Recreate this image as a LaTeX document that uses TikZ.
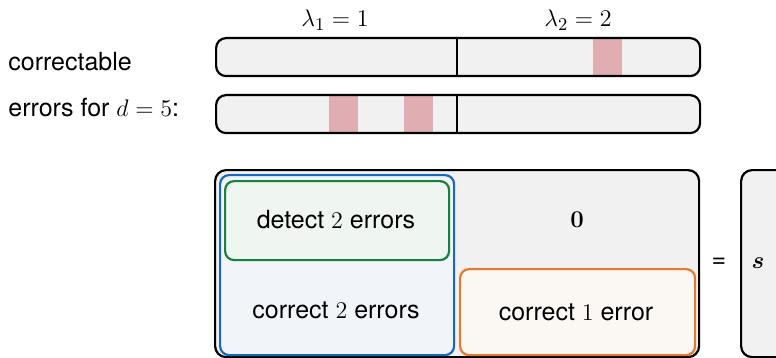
\documentclass[tikz,border=0pt]{standalone}
\usepackage{amsmath}
\usepackage{bm}
\usepackage[no-math]{fontspec}
\setmainfont{TeX Gyre Heros}
\definecolor{panel}{HTML}{F1F1F1}
\definecolor{errfill}{HTML}{E0ADB2}
\definecolor{bluedge}{HTML}{1768C2}
\definecolor{bluefill}{HTML}{F1F5FA}
\definecolor{greenedge}{HTML}{17803A}
\definecolor{greenfill}{HTML}{EFF5F0}
\definecolor{orangeedge}{HTML}{E8782A}
\definecolor{orangefill}{HTML}{FBF7F3}
\tikzset{
  px/.style={x=0.5pt,y=-0.5pt},
  lbl/.style={inner sep=0pt,font=\fontsize{12.5}{15}\selectfont},
  barbox/.style={draw=black,line width=1.1pt,rounded corners=5pt},
  errcell/.style={fill=errfill},
  region/.style={line width=1.1pt,rounded corners=4.5pt},
}
\begin{document}
\begin{tikzpicture}[px]
\useasboundingbox (0,0) rectangle (776,358);
\clip (0,0) rectangle (776,358);

% weight labels
\node[lbl] (l1) at (335,20) {$\lambda_1 = 1$};
\node[lbl] (l2) at (578,20) {$\lambda_2 = 2$};

% left caption
\node[lbl,anchor=west] (c1) at (8,62) {correctable};
\node[lbl,anchor=west] (c2) at (8,108) {errors for $d = 5$:};

% error patterns
\fill[panel,rounded corners=5pt] (215,37) rectangle (699,75);
\fill[errcell] (593,37) rectangle (622,75);
\draw[line width=1.1pt] (457,37) -- (457,75);
\node[barbox,anchor=north west,minimum width=242pt,minimum height=19pt,inner sep=0pt] (bar1) at (215,37) {};

\fill[panel,rounded corners=5pt] (215,94) rectangle (699,132);
\fill[errcell] (329,94) rectangle (358,132);
\fill[errcell] (404,94) rectangle (433,132);
\draw[line width=1.1pt] (457,94) -- (457,132);
\node[barbox,anchor=north west,minimum width=242pt,minimum height=19pt,inner sep=0pt] (bar2) at (215,94) {};

% check matrix
\node[region,draw=black,fill=panel,rounded corners=5.5pt,anchor=north west,minimum width=242pt,minimum height=93.5pt,inner sep=0pt] (H) at (214,169) {};
\node[region,draw=bluedge,fill=bluefill,anchor=north west,minimum width=117pt,minimum height=90pt,inner sep=0pt] (blue) at (219,174) {};
\node[region,draw=greenedge,fill=greenfill,anchor=north west,minimum width=112pt,minimum height=39.5pt,inner sep=0pt] (green) at (224,180) {};
\node[lbl] (det) at (336,220) {detect $2$ errors};
\node[lbl] (cor2) at (336,310) {correct $2$ errors};
\node[lbl] (zero) at (577,220) {$\mathbf{0}$};
\node[region,draw=orangeedge,fill=orangefill,anchor=north west,minimum width=117.5pt,minimum height=43pt,inner sep=0pt] (orange) at (459,268) {};
\node[lbl] (cor1) at (576,312) {correct $1$ error};

% syndrome
\node[lbl] (eq) at (719,263) {=};
\node[region,draw=black,fill=panel,rounded corners=5.5pt,anchor=north west,minimum width=30pt,minimum height=93.5pt,inner sep=0pt] (S) at (740,169) {};
\node[lbl] (s) at (758,263) {$\bm{s}$};
\end{tikzpicture}
\end{document}
